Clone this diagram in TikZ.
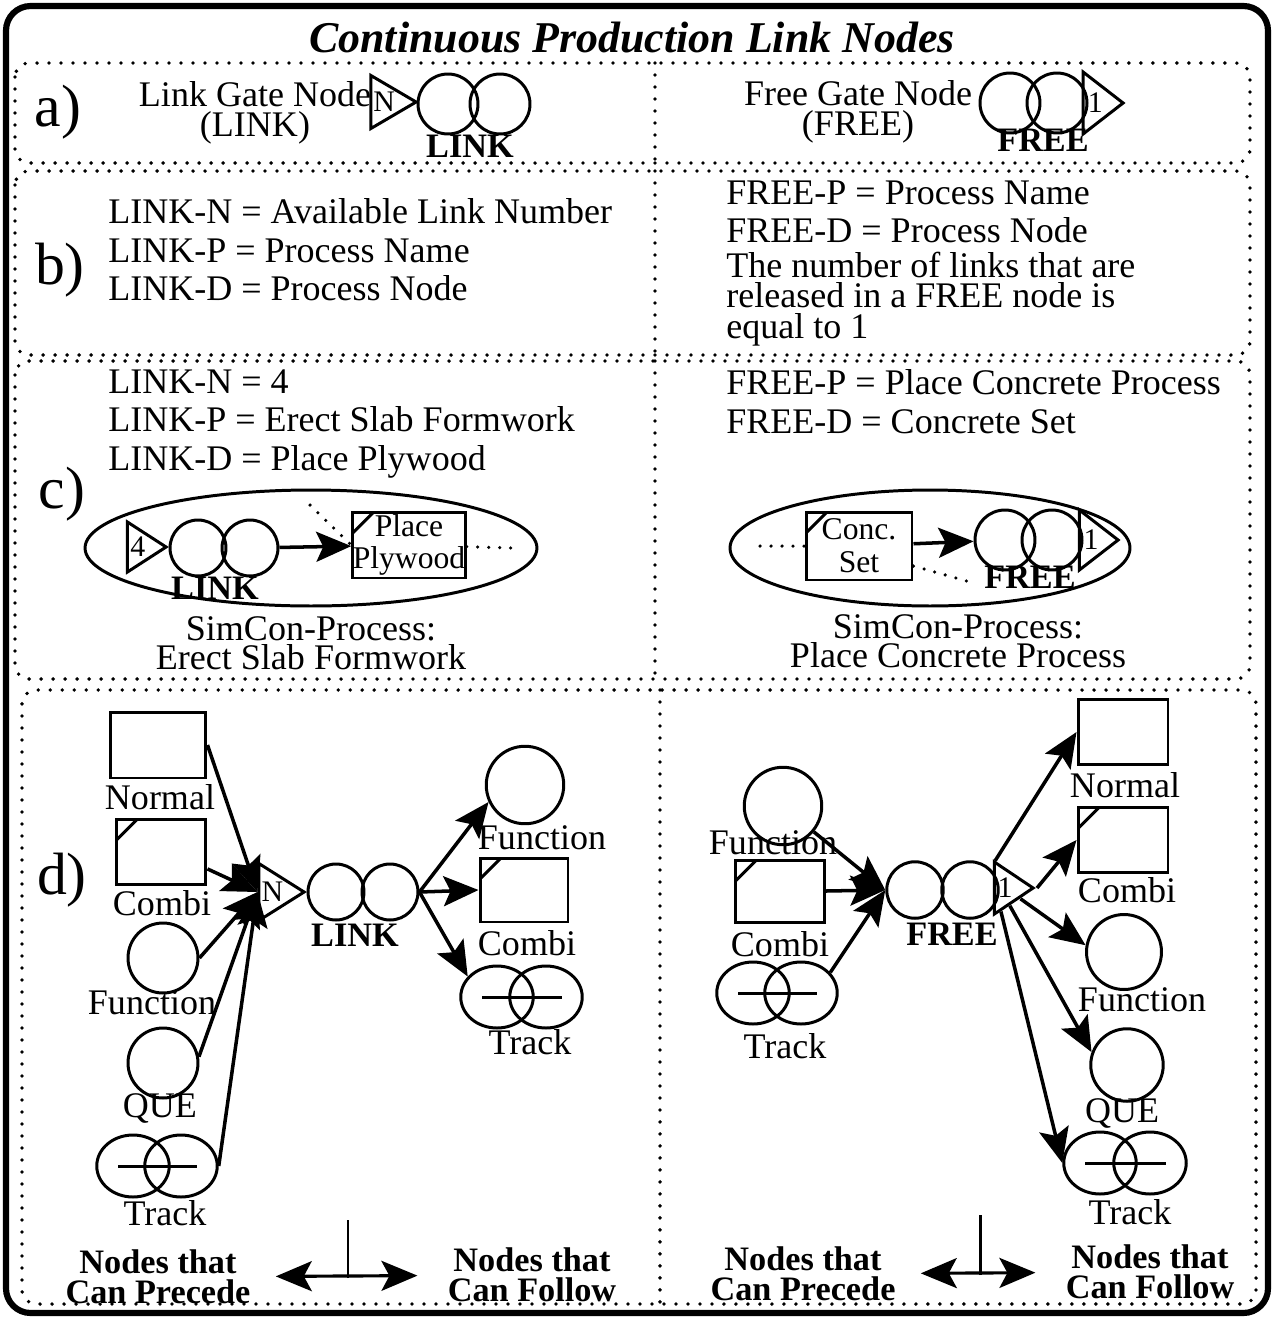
\documentclass[tikz,border=0pt]{standalone}
\usepackage{fontspec}
\setmainfont{Liberation Serif}
\usetikzlibrary{positioning, arrows.meta, calc, shapes.geometric}

\begin{document}
\begin{tikzpicture}[x=0.02cm, y=-0.02cm,
    lw/.style={line width=1.7pt},
    txt/.style={font=\fontsize{20.5}{22}\selectfont, inner sep=0pt},
    btxt/.style={font=\fontsize{19.5}{17}\selectfont\bfseries, inner sep=0pt},
    tag/.style={font=\fontsize{34}{34}\selectfont, inner sep=0pt},
    dotbox/.style={line width=2.2pt, dash pattern=on 0pt off 0.24cm, line cap=round, rounded corners=8pt},
    dotline/.style={line width=2pt, dash pattern=on 0pt off 0.22cm, line cap=round},
    ring/.style={circle, draw, line width=1.7pt, minimum size=#1, inner sep=0pt},
    ring/.default=1.2cm,
    trackring/.style={ellipse, draw, line width=1.7pt, minimum width=1.45cm, minimum height=1.24cm, inner sep=0pt},
    gate/.style={isosceles triangle, isosceles triangle stretches, draw, line width=1.7pt, minimum height=0.72cm, minimum width=#1, inner sep=0pt, font=\fontsize{17}{17}\selectfont},
    gate/.default=1.12cm,
    plainbox/.style={draw, line width=1.7pt, minimum width=1.8cm, minimum height=1.3cm, inner sep=0pt},
    combibox/.style={plainbox, path picture={\draw[line width=1.7pt] ([yshift=-0.42cm]path picture bounding box.north west) -- ([xshift=0.42cm]path picture bounding box.north west);}},
    arr/.style={line width=2pt, -{Stealth[length=0.7cm, width=0.6cm, inset=0.14cm]}},
    darr/.style={line width=1.8pt, {Stealth[length=0.72cm, width=0.6cm, inset=0.16cm]}-{Stealth[length=0.72cm, width=0.6cm, inset=0.16cm]}}
  ]
  \useasboundingbox (0,0) rectangle (1275,1319);
  \draw[line width=3.5pt, rounded corners=14pt] (6,6) rectangle (1268,1313);
  \node[font=\fontsize{25}{25}\selectfont\bfseries\itshape, inner sep=0pt] (title) at (632,38) {Continuous Production Link Nodes};

  % panels
  \draw[dotbox] (15,63) rectangle (1250,163);
  \draw[dotbox] (655,63) -- (655,163);
  \draw[dotbox] (15,171) rectangle (1250,355);
  \draw[dotbox] (655,171) -- (655,355);
  \draw[dotbox] (15,361) rectangle (1250,679);
  \draw[dotbox] (655,361) -- (655,679);
  \draw[dotbox] (22,690) rectangle (1256,1304);
  \draw[dotbox] (660,690) -- (660,1304);

  % a) gate nodes
  \node[tag] (taga) at (58,112) {a)};
  \node[txt, align=center, font=\fontsize{20.5}{17}\selectfont] (lgname) at (255,113) {Link Gate Node\\(LINK)};
  \node[gate=1.06cm, anchor=apex] (ga) at (420,102) {N};
  \node[ring] (la1) at (448,104) {};
  \node[ring] (la2) at (500,104) {};
  \node[btxt] (lal) at (470,146) {LINK};
  \node[txt, align=center, font=\fontsize{20.5}{17}\selectfont] (fgname) at (858,112) {Free Gate Node\\(FREE)};
  \node[ring] (fa1) at (1010,103) {};
  \node[ring] (fa2) at (1057,103) {};
  \node[gate=1.24cm, minimum height=0.8cm, anchor=apex] (gfa) at (1127,103) {1};
  \node[btxt] (fal) at (1043,140) {FREE};

  % b) attributes
  \node[tag] (tagb) at (60,270) {b)};
  \node[txt, align=left, anchor=west] (linkdef) at (108,250) {LINK-N = Available Link Number\\LINK-P = Process Name\\LINK-D = Process Node};
  \node[txt, align=left, anchor=west] (freedef) at (726,212) {FREE-P = Process Name\\FREE-D = Process Node};
  \node[txt, align=left, anchor=west, font=\fontsize{20.5}{17.2}\selectfont] (freenote) at (726,299) {The number of links that are\\released in a FREE node is\\equal to 1};

  % c) example
  \node[tag] (tagc) at (62,494) {c)};
  \node[txt, align=left, anchor=west] (linkex) at (108,424) {LINK-N = 4\\LINK-P = Erect Slab Formwork\\LINK-D = Place Plywood};
  \node[txt, align=left, anchor=west] (freeex) at (726,402) {FREE-P = Place Concrete Process\\FREE-D = Concrete Set};

  \node[ellipse, draw, lw, minimum width=9.04cm, minimum height=2.32cm] (procL) at (311,548) {};
  \node[gate=1cm, anchor=apex] (gc) at (170,547) {4};
  \node[ring=1.12cm] (lc1) at (198,548) {};
  \node[ring=1.12cm] (lc2) at (250,548) {};
  \node[btxt] (lcl) at (215,588) {LINK};
  \node[combibox, minimum width=2.16cm, minimum height=1.32cm, align=center, font=\fontsize{18}{18.7}\selectfont] (plyw) at (409,545) {Place\\Plywood};
  \draw[arr] (lc2) -- (plyw);
  \coordinate (plyin) at (310,505);
  \coordinate (plyout) at (512,548);
  \draw[dotline] (plyin) -- (plyw.west);
  \draw[dotline] (plyw) -- (plyout);
  \node[txt] (simL1) at (311,629) {SimCon-Process:};
  \node[txt] (simL2) at (311,657) {Erect Slab Formwork};

  \node[ellipse, draw, lw, minimum width=8cm, minimum height=2.32cm] (procR) at (930,548) {};
  \node[combibox, minimum width=2.12cm, minimum height=1.36cm, align=center, font=\fontsize{18}{18.7}\selectfont] (cset) at (859,546) {Conc.\\Set};
  \node[ring] (fc1) at (1005,540) {};
  \node[ring] (fc2) at (1052,540) {};
  \node[gate=1.2cm, minimum height=0.76cm, anchor=apex] (gfc) at (1122,540) {1};
  \node[btxt] (fcl) at (1030,577) {FREE};
  \draw[arr] (cset) -- (fc1);
  \coordinate (csin) at (760,546);
  \coordinate (csout) at (970,582);
  \draw[dotline] (csin) -- (cset);
  \draw[dotline] ([yshift=-0.4cm]cset.east) -- (csout);
  \node[txt] (simR1) at (958,627) {SimCon-Process:};
  \node[txt] (simR2) at (958,655) {Place Concrete Process};

  % d) LINK: nodes that can precede / follow
  \node[tag] (tagd) at (62,880) {d)};
  \node[plainbox, minimum width=1.92cm, minimum height=1.32cm] (nrmL) at (158,745) {};
  \node[txt] (nrmLt) at (160,797) {Normal};
  \node[combibox] (cmbL) at (161,852) {};
  \node[txt] (cmbLt) at (162,903) {Combi};
  \node[ring=1.4cm] (fnL) at (163,958) {};
  \node[txt] (fnLt) at (152,1003) {Function};
  \node[ring=1.4cm] (queL) at (163,1063) {};
  \node[txt] (queLt) at (160,1108) {QUE};
  \node[trackring] (trL1) at (133,1166) {};
  \node[trackring] (trL2) at (181,1166) {};
  \draw[lw] ($(trL1.center)+(-15,0)$) -- ($(trL2.center)+(16,0)$);
  \node[txt] (trLt) at (165,1213) {Track};

  \node[gate=1.14cm, minimum height=0.74cm, anchor=apex] (gdL) at (308,892) {N};
  \node[ring=1.12cm] (ld1) at (336,892) {};
  \node[ring=1.12cm] (ld2) at (390,892) {};
  \node[btxt] (ldl) at (355,935) {LINK};

  \node[ring=1.55cm] (fnR) at (525,785) {};
  \node[txt] (fnRt) at (542,838) {Function};
  \node[combibox, minimum width=1.76cm, minimum height=1.28cm] (cmbR) at (524,890) {};
  \node[txt] (cmbRt) at (527,943) {Combi};
  \node[trackring] (trR1) at (497,997) {};
  \node[trackring] (trR2) at (546,997) {};
  \draw[lw] ($(trR1.center)+(-15,0)$) -- ($(trR2.center)+(16,0)$);
  \node[txt] (trRt) at (530,1042) {Track};

  \draw[arr] (nrmL.east) -- (gdL.west);
  \draw[arr] (cmbL.-20) -- (gdL.west);
  \draw[arr] (fnL.east) -- (gdL.west);
  \draw[arr] (queL.10) -- (gdL.west);
  \draw[arr] (trL2.east) -- (gdL.west);
  \draw[arr] (ld2.east) -- (fnR.205);
  \draw[arr] (ld2.east) -- (cmbR.west);
  \draw[arr] (ld2.east) -- (trR1.145);

  \node[btxt, align=center] (precL) at (158,1277) {Nodes that\\Can Precede};
  \node[btxt, align=center] (follL) at (532,1275) {Nodes that\\Can Follow};
  \coordinate (axL) at (348,1278);
  \draw[lw] (axL) -- ++(0,-58);
  \draw[darr, shorten <=0.5cm, shorten >=0.6cm] (precL) -- (follL);

  % d) FREE: nodes that can precede / follow
  \node[ring=1.55cm] (fnP) at (783,806) {};
  \node[txt] (fnPt) at (773,843) {Function};
  \node[combibox, minimum width=1.78cm, minimum height=1.24cm] (cmbP) at (780,891) {};
  \node[txt] (cmbPt) at (780,944) {Combi};
  \node[trackring] (trP1) at (753,993) {};
  \node[trackring] (trP2) at (801,993) {};
  \draw[lw] ($(trP1.center)+(-15,0)$) -- ($(trP2.center)+(16,0)$);
  \node[txt] (trPt) at (785,1046) {Track};

  \node[ring=1.13cm] (fd1) at (915,890) {};
  \node[ring=1.13cm] (fd2) at (970,890) {};
  \node[gate=1.04cm, minimum height=0.68cm, anchor=apex] (gdR) at (1037,888) {1};
  \node[btxt] (fdl) at (952,934) {FREE};

  \node[plainbox] (nrmS) at (1123,732) {};
  \node[txt] (nrmSt) at (1125,785) {Normal};
  \node[combibox] (cmbS) at (1123,840) {};
  \node[txt] (cmbSt) at (1127,890) {Combi};
  \node[ring=1.5cm] (fnS) at (1124,952) {};
  \node[txt] (fnSt) at (1142,1000) {Function};
  \node[ring=1.45cm] (queS) at (1127,1065) {};
  \node[txt] (queSt) at (1122,1113) {QUE};
  \node[trackring] (trS1) at (1100,1163) {};
  \node[trackring] (trS2) at (1150,1163) {};
  \draw[lw] ($(trS1.center)+(-15,0)$) -- ($(trS2.center)+(16,0)$);
  \node[txt] (trSt) at (1130,1212) {Track};

  \draw[arr] (fnP.-40) -- (fd1.west);
  \draw[arr] (cmbP.east) -- (fd1.west);
  \draw[arr] (trP2.35) -- (fd1.west);
  \draw[arr] (gdR.110) -- (nrmS.west);
  \draw[arr] (gdR.apex) -- (cmbS.west);
  \draw[arr] (gdR.-35) -- (fnS.170);
  \draw[arr] (gdR.-75) -- (queS.160);
  \draw[arr] (gdR.-100) -- (trS1.west);

  \node[btxt, align=center] (precR) at (803,1274) {Nodes that\\Can Precede};
  \node[btxt, align=center] (follR) at (1150,1272) {Nodes that\\Can Follow};
  \coordinate (axR) at (980,1275);
  \draw[lw] (axR) -- ++(0,-60);
  \draw[darr, shorten <=0.5cm, shorten >=0.6cm] (precR) -- (follR);
\end{tikzpicture}
\end{document}
